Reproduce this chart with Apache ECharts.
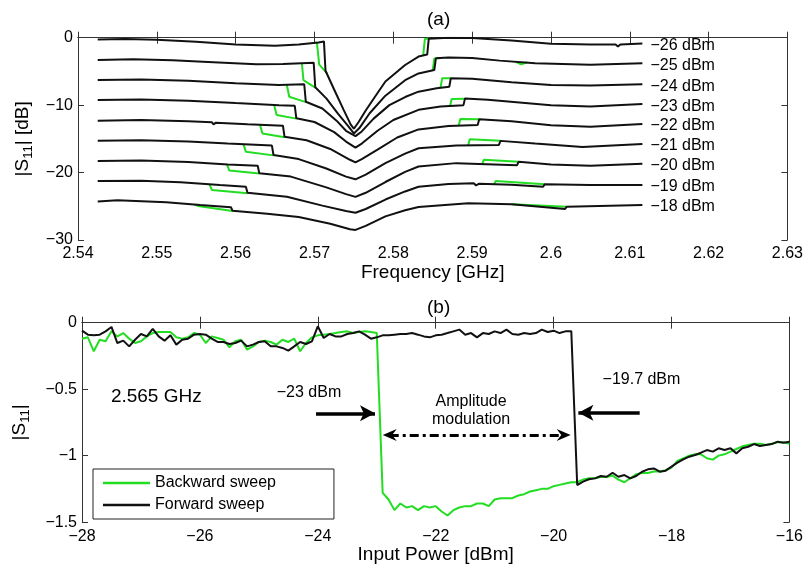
<!DOCTYPE html>
<html>
<head>
<meta charset="utf-8">
<script src="https://cdn.jsdelivr.net/npm/echarts@6/dist/echarts.min.js"></script>
<style>
  html, body { margin: 0; padding: 0; background: #fff; }
  #chart { width: 806px; height: 565px; }
</style>
</head>
<body>
<div id="chart"></div>
<script>
// (a) |S11| vs frequency, one trace per input power
const levels = ['−26 dBm', '−25 dBm', '−24 dBm', '−23 dBm', '−22 dBm', '−21 dBm', '−20 dBm', '−19 dBm', '−18 dBm'];

// forward (black) traces [GHz, dB]
const fwd26 = [[2.5425,-0.25],[2.546,-0.2],[2.55,-0.3],[2.555,-0.6],[2.56,-1.0],[2.565,-1.2],[2.568,-1.0],[2.5705,-0.7],[2.5712,-0.55],[2.5714,-4.9],[2.5727,-8.2],[2.5737,-10.7],[2.5746,-12.9],[2.575,-13.5],[2.5756,-12.5],[2.5765,-10.8],[2.578,-8.2],[2.579,-6.5],[2.5815,-4.05],[2.5832,-2.8],[2.5843,-2.5],[2.5845,-0.15],[2.587,0],[2.59,-0.05],[2.595,-0.4],[2.6,-0.9],[2.605,-1.0],[2.6082,-1.0],[2.6085,-1.3],[2.6088,-1.0],[2.6116,-0.85]];
const fwd25 = [[2.5425,-3.3],[2.547,-3.2],[2.552,-3.35],[2.5565,-3.6],[2.5626,-3.95],[2.566,-3.9],[2.5699,-3.7],[2.5701,-7.35],[2.5715,-9.0],[2.573,-11.3],[2.5742,-13.0],[2.575,-14.2],[2.5757,-13.4],[2.577,-11.2],[2.579,-8.6],[2.5815,-6.3],[2.5832,-5.3],[2.5852,-4.8],[2.5854,-3.05],[2.587,-2.95],[2.59,-3.0],[2.5935,-3.4],[2.598,-3.8],[2.605,-4.0],[2.6116,-3.8]];
const fwd24 = [[2.5425,-6.27],[2.548,-6.2],[2.554,-6.4],[2.56,-6.75],[2.5655,-7.0],[2.5687,-6.9],[2.5689,-9.5],[2.571,-10.5],[2.5728,-12.3],[2.574,-13.8],[2.5752,-14.6],[2.576,-13.9],[2.5775,-12.0],[2.5795,-10.0],[2.5815,-8.8],[2.5832,-8.0],[2.5855,-7.5],[2.5871,-7.27],[2.5873,-6.0],[2.59,-6.1],[2.595,-6.6],[2.6,-7.0],[2.605,-7.1],[2.6116,-6.9]];
const fwd23 = [[2.5425,-9.24],[2.548,-9.15],[2.554,-9.35],[2.56,-9.7],[2.5655,-10.0],[2.5675,-10.1],[2.5677,-11.95],[2.57,-12.5],[2.5725,-14.0],[2.574,-15.4],[2.5752,-16.3],[2.576,-15.7],[2.578,-13.8],[2.58,-12.2],[2.5832,-10.7],[2.586,-10.2],[2.5889,-10.0],[2.5891,-9.0],[2.592,-9.2],[2.596,-9.6],[2.6,-10.0],[2.605,-10.2],[2.6116,-9.85]];
const fwd22 = [[2.5425,-12.3],[2.548,-12.2],[2.554,-12.4],[2.557,-12.55],[2.5572,-12.85],[2.5575,-12.6],[2.5615,-12.85],[2.566,-13.05],[2.5662,-14.7],[2.569,-15.2],[2.572,-16.5],[2.5745,-18.1],[2.5752,-18.5],[2.576,-18.0],[2.578,-16.6],[2.5805,-14.8],[2.5832,-13.6],[2.587,-13.1],[2.5907,-12.95],[2.5909,-12.1],[2.595,-12.4],[2.6,-13.0],[2.605,-13.2],[2.6116,-12.8]];
const fwd21 = [[2.5425,-15.3],[2.548,-15.2],[2.554,-15.4],[2.559,-15.7],[2.5646,-16.0],[2.5648,-17.4],[2.568,-18.0],[2.5715,-19.4],[2.574,-20.6],[2.5752,-21.0],[2.5765,-20.3],[2.579,-18.6],[2.5815,-17.2],[2.5832,-16.4],[2.588,-16.0],[2.5934,-15.9],[2.5936,-15.3],[2.598,-15.7],[2.604,-16.2],[2.6116,-15.77]];
const fwd20 = [[2.5425,-18.3],[2.548,-18.2],[2.554,-18.45],[2.559,-18.8],[2.5628,-19.0],[2.563,-20.1],[2.567,-20.6],[2.5715,-22.2],[2.574,-23.2],[2.5752,-23.6],[2.5765,-23.0],[2.579,-21.4],[2.5815,-19.9],[2.5832,-19.1],[2.588,-18.6],[2.5957,-18.9],[2.5959,-18.4],[2.6,-18.8],[2.605,-19.0],[2.6116,-18.7]];
const fwd19 = [[2.5425,-21.25],[2.548,-21.2],[2.553,-21.45],[2.558,-21.85],[2.5613,-22.1],[2.5615,-23.0],[2.5665,-23.6],[2.571,-24.9],[2.574,-25.7],[2.5752,-25.95],[2.5765,-25.4],[2.579,-24.0],[2.5815,-22.8],[2.5832,-22.1],[2.587,-21.7],[2.5902,-21.6],[2.5905,-21.9],[2.5909,-21.65],[2.595,-21.8],[2.599,-22.1],[2.5992,-21.75],[2.605,-21.85],[2.6116,-21.85]];
const fwd18 = [[2.5425,-24.3],[2.545,-24.1],[2.5512,-24.4],[2.5555,-24.8],[2.5594,-25.15],[2.5596,-25.65],[2.564,-26.1],[2.568,-26.6],[2.572,-27.6],[2.5745,-28.4],[2.5752,-28.5],[2.5765,-27.9],[2.579,-26.5],[2.5815,-25.6],[2.5832,-25.1],[2.5895,-24.56],[2.595,-24.7],[2.6018,-25.4],[2.602,-25.06],[2.6116,-24.8]];

// backward (green) trace, only the parts that leave the forward trace
const bwd26 = [[[2.5703,-0.6],[2.5706,-4.0],[2.5716,-5.3]], [[2.5838,-2.6],[2.584,-0.2],[2.5846,-0.1]]];
const bwd25 = [[[2.5684,-3.75],[2.5686,-6.3],[2.5701,-7.4]], [[2.585,-4.85],[2.5852,-3.1],[2.586,-3.0]], [[2.5955,-3.55],[2.5962,-3.95],[2.597,-3.65]]];
const bwd24 = [[[2.5665,-7.05],[2.5668,-8.75],[2.5689,-9.55]], [[2.586,-7.35],[2.5862,-6.0],[2.5873,-6.0]]];
const bwd23 = [[[2.5649,-10.05],[2.5652,-11.45],[2.5677,-12.0]], [[2.5872,-10.15],[2.5874,-9.1],[2.5891,-9.05]]];
const bwd22 = [[[2.5631,-12.95],[2.5634,-14.2],[2.5662,-14.75]], [[2.5883,-13.05],[2.5885,-12.06],[2.5909,-12.1]]];
const bwd21 = [[[2.561,-15.85],[2.5613,-16.9],[2.5648,-17.45]], [[2.5895,-15.95],[2.5897,-15.07],[2.5936,-15.3]]];
const bwd20 = [[[2.5589,-18.8],[2.5592,-19.7],[2.563,-20.15]], [[2.5913,-18.65],[2.5915,-18.1],[2.5959,-18.4]]];
const bwd19 = [[[2.5567,-21.8],[2.557,-22.6],[2.5615,-23.05]], [[2.5928,-21.7],[2.593,-21.25],[2.5992,-21.75]]];
const bwd18 = [[[2.5548,-24.75],[2.5552,-24.95],[2.5596,-25.7]], [[2.595,-24.7],[2.5952,-24.5],[2.602,-25.06]]];

const forwardTraces = [fwd26, fwd25, fwd24, fwd23, fwd22, fwd21, fwd20, fwd19, fwd18];
const backwardTraces = [bwd26, bwd25, bwd24, bwd23, bwd22, bwd21, bwd20, bwd19, bwd18];

// (b) |S11| at 2.565 GHz vs input power, 0.1 dBm steps from -28 to -16
const powerStart = -28;
const powerStep = 0.1;
const forwardS11 = [
  -0.06,-0.09,-0.095,-0.09,-0.065,-0.032,-0.153,-0.135,-0.178,-0.128,
  -0.085,-0.103,-0.047,-0.103,-0.135,-0.095,-0.165,-0.128,-0.12,-0.09,
  -0.085,-0.09,-0.12,-0.145,-0.145,-0.16,-0.153,-0.135,-0.178,-0.165,
  -0.145,-0.14,-0.178,-0.178,-0.19,-0.21,-0.178,-0.145,-0.16,-0.14,
  -0.027,-0.115,-0.085,-0.103,-0.103,-0.085,-0.078,-0.065,-0.09,-0.12,
  -0.11,-0.095,-0.095,-0.09,-0.085,-0.085,-0.078,-0.09,-0.103,-0.11,
  -0.095,-0.09,-0.078,-0.065,-0.052,-0.09,-0.078,-0.11,-0.078,-0.085,
  -0.065,-0.078,-0.052,-0.085,-0.09,-0.078,-0.085,-0.078,-0.052,-0.07,
  -0.06,-0.078,-0.065,-0.065,
  -1.221,-1.196,-1.178,-1.171,-1.153,-1.159,
  -1.129,-1.159,-1.146,-1.171,-1.153,-1.121,-1.103,-1.096,-1.121,-1.113,
  -1.083,-1.053,-1.028,-1.008,-0.995,-0.978,-0.958,-0.97,-0.945,-0.958,
  -0.945,-0.983,-0.945,-0.933,-0.913,-0.928,-0.92,-0.913,-0.895,-0.903,
  -0.895
];
const backwardS11 = [
  -0.12,-0.11,-0.215,-0.128,-0.14,-0.065,-0.103,-0.078,-0.12,-0.153,
  -0.14,-0.103,-0.078,-0.07,-0.07,-0.07,-0.11,-0.12,-0.11,-0.078,
  -0.09,-0.153,-0.103,-0.115,-0.128,-0.185,-0.14,-0.128,-0.203,-0.178,
  -0.145,-0.135,-0.145,-0.165,-0.128,-0.145,-0.12,-0.215,-0.153,-0.11,
  -0.095,-0.09,-0.085,-0.078,-0.07,-0.065,-0.078,-0.07,-0.065,-0.07,
  -0.078,
  -1.28,-1.33,-1.41,-1.36,-1.39,-1.38,-1.41,-1.38,-1.39,
  -1.38,-1.42,-1.45,-1.41,-1.39,-1.38,-1.38,-1.36,-1.36,-1.38,
  -1.33,-1.32,-1.32,-1.32,-1.30,-1.29,-1.27,-1.26,-1.25,-1.25,
  -1.23,-1.22,-1.21,-1.20,-1.20,-1.18,-1.17,-1.17,-1.16,-1.16,
  -1.15,-1.18,-1.20,-1.17,-1.14,-1.13,-1.13,-1.12,-1.12,-1.11,
  -1.09,-1.04,-1.02,-1.00,-0.99,-0.99,-1.02,-1.03,-1.00,-0.99,
  -0.97,-0.95,-0.93,-0.92,-0.91,-0.91,-0.92,-0.91,-0.90,-0.90,
  -0.91
];

const GREEN = '#22dd22';
const BLACK = '#111111';
const FONT = 'Liberation Sans, Arial, Helvetica, sans-serif';

const minusSign = (v) => String(v).replace('-', '−');

function pairUp(values) {
  return values.map((v, i) => [+(powerStart + i * powerStep).toFixed(1), v]);
}

// axis helpers
function mainAxis(extra) {
  return Object.assign({
    type: 'value',
    axisLine: { show: true, lineStyle: { color: '#333', width: 1 } },
    axisTick: { show: true, inside: true, length: 6, lineStyle: { color: '#333' } },
    splitLine: { show: false },
    axisLabel: { color: '#000', fontSize: 16, fontFamily: FONT, margin: 6 }
  }, extra);
}
function mirrorAxis(extra) {
  return Object.assign({
    type: 'value',
    axisLine: { show: true, onZero: false, lineStyle: { color: '#333', width: 1 } },
    axisTick: { show: true, inside: true, length: 6, lineStyle: { color: '#333' } },
    splitLine: { show: false },
    axisLabel: { show: false }
  }, extra);
}

let series = [];

// green first so black sits on top
backwardTraces.forEach((segs, k) => {
  segs.forEach((seg, j) => {
    series.push({
      name: 'bwd ' + levels[k] + ' ' + j,
      type: 'line', xAxisIndex: 0, yAxisIndex: 0,
      data: seg, symbol: 'none', silent: true,
      lineStyle: { color: GREEN, width: 2 }
    });
  });
});
forwardTraces.forEach((tr, k) => {
  series.push({
    name: 'fwd ' + levels[k],
    type: 'line', xAxisIndex: 0, yAxisIndex: 0,
    data: tr, symbol: 'none', silent: true,
    lineStyle: { color: BLACK, width: 2 },
    endLabel: {
      show: true, formatter: levels[k], color: '#000',
      fontSize: 16, fontFamily: FONT, distance: 8, offset: [0, 2]
    }
  });
});

// dash-dot arrow head
const chevron = 'path://M5,0 L10,12 L5,8 L0,12 Z';

series.push({
  name: 'Backward sweep',
  type: 'line', xAxisIndex: 2, yAxisIndex: 2,
  data: pairUp(backwardS11), symbol: 'none',
  color: GREEN,
  lineStyle: { color: GREEN, width: 2 }
});
series.push({
  name: 'Forward sweep',
  type: 'line', xAxisIndex: 2, yAxisIndex: 2,
  data: pairUp(forwardS11), symbol: 'none',
  color: BLACK,
  lineStyle: { color: BLACK, width: 2 },
  markLine: {
    silent: true,
    animation: false,
    label: { show: false },
    emphasis: { disabled: true },
    data: [
      [{ coord: [-24.03, -0.682], symbol: 'none', lineStyle: { color: '#000', width: 3.5, type: 'solid' } },
       { coord: [-23.03, -0.682], symbol: 'arrow', symbolSize: [12, 15] }],
      [{ coord: [-18.54, -0.677], symbol: 'none', lineStyle: { color: '#000', width: 3.5, type: 'solid' } },
       { coord: [-19.58, -0.677], symbol: 'arrow', symbolSize: [12, 15] }],
      [{ coord: [-22.78, -0.845], symbol: chevron, symbolSize: [12, 14], lineStyle: { color: '#000', width: 3, type: [9, 4, 3, 4] } },
       { coord: [-19.83, -0.845], symbol: chevron, symbolSize: [12, 14] }]
    ]
  }
});

const option = {
  animation: false,
  backgroundColor: '#fff',
  textStyle: { fontFamily: FONT, color: '#000' },
  title: [
    { text: '(a)', left: 422, top: 5, textStyle: { fontSize: 19, fontWeight: 'normal', color: '#000', fontFamily: FONT } },
    { text: '(b)', left: 422, top: 293, textStyle: { fontSize: 19, fontWeight: 'normal', color: '#000', fontFamily: FONT } }
  ],
  legend: {
    data: [
      { name: 'Backward sweep', icon: 'rect' },
      { name: 'Forward sweep', icon: 'rect' }
    ],
    orient: 'vertical',
    left: 93, top: 469,
    padding: [5, 58, 5, 10],
    itemGap: 4,
    itemWidth: 47, itemHeight: 2.5,
    borderColor: '#222', borderWidth: 1,
    backgroundColor: '#fff',
    selectedMode: false,
    textStyle: { fontSize: 16, lineHeight: 18, color: '#000', fontFamily: FONT }
  },
  grid: [
    { left: 78, right: 15, top: 37.7, height: 202.3, show: true, backgroundColor: '#fff', borderWidth: 0 },
    { left: 78, right: 15, top: 322.7, height: 199.6, show: true, backgroundColor: '#fff', borderWidth: 0 }
  ],
  xAxis: [
    mainAxis({
      gridIndex: 0, position: 'bottom', min: 2.54, max: 2.63, interval: 0.01,
      name: 'Frequency [GHz]', nameLocation: 'middle', nameGap: 22,
      nameTextStyle: { fontSize: 19, color: '#000', fontFamily: FONT, verticalAlign: 'top' },
      axisLabel: { color: '#000', fontSize: 16, fontFamily: FONT, margin: 6, formatter: (v) => String(+v.toFixed(2)) }
    }),
    mirrorAxis({ gridIndex: 0, position: 'top', min: 2.54, max: 2.63, interval: 0.01 }),
    mainAxis({
      gridIndex: 1, position: 'bottom', min: -28, max: -16, interval: 2,
      name: 'Input Power [dBm]', nameLocation: 'middle', nameGap: 17,
      nameTextStyle: { fontSize: 19, color: '#000', fontFamily: FONT, verticalAlign: 'top' },
      axisLabel: { color: '#000', fontSize: 16, fontFamily: FONT, margin: 6, formatter: minusSign }
    }),
    mirrorAxis({ gridIndex: 1, position: 'top', min: -28, max: -16, interval: 2 })
  ],
  yAxis: [
    mainAxis({
      gridIndex: 0, position: 'left', min: -30, max: 0, interval: 10,
      name: '|S{s|11}| [dB]', nameLocation: 'middle', nameRotate: 90, nameGap: 42,
      nameTextStyle: { fontSize: 19, color: '#000', fontFamily: FONT, lineHeight: 24,
        rich: { s: { fontSize: 13, lineHeight: 13, verticalAlign: 'bottom', fontFamily: FONT, color: '#000' } } },
      axisLabel: { color: '#000', fontSize: 16, fontFamily: FONT, margin: 5, formatter: minusSign }
    }),
    mirrorAxis({ gridIndex: 0, position: 'right', min: -30, max: 0, interval: 10 }),
    mainAxis({
      gridIndex: 1, position: 'left', min: -1.5, max: 0, interval: 0.5,
      name: '|S{s|11}|', nameLocation: 'middle', nameRotate: 90, nameGap: 50,
      nameTextStyle: { fontSize: 19, color: '#000', fontFamily: FONT, lineHeight: 24,
        rich: { s: { fontSize: 13, lineHeight: 13, verticalAlign: 'bottom', fontFamily: FONT, color: '#000' } } },
      axisLabel: { color: '#000', fontSize: 16, fontFamily: FONT, margin: 5, formatter: minusSign }
    }),
    mirrorAxis({ gridIndex: 1, position: 'right', min: -1.5, max: 0, interval: 0.5 })
  ],
  series: series
};

const chart = echarts.init(document.getElementById('chart'), null, { renderer: 'canvas' });
chart.setOption(option);

// text notes in panel (b), anchored in data coordinates
const notes = [
  { text: '2.565 GHz', at: [-27.51, -0.559], size: 19, align: 'left' },
  { text: '−23 dBm', at: [-24.15, -0.529], size: 16, align: 'center' },
  { text: 'Amplitude\nmodulation', at: [-21.40, -0.664], size: 16, align: 'center' },
  { text: '−19.7 dBm', at: [-18.51, -0.426], size: 16, align: 'center' }
];
const graphic = notes.map((n) => {
  const p = chart.convertToPixel({ xAxisIndex: 2, yAxisIndex: 2 }, n.at);
  return {
    type: 'text', x: p[0], y: p[1], silent: true, z: 100,
    style: {
      text: n.text, fontSize: n.size, fontFamily: FONT, fill: '#000',
      align: n.align, verticalAlign: 'middle', lineHeight: 18
    }
  };
});
chart.setOption({ graphic: graphic });
</script>
</body>
</html>
